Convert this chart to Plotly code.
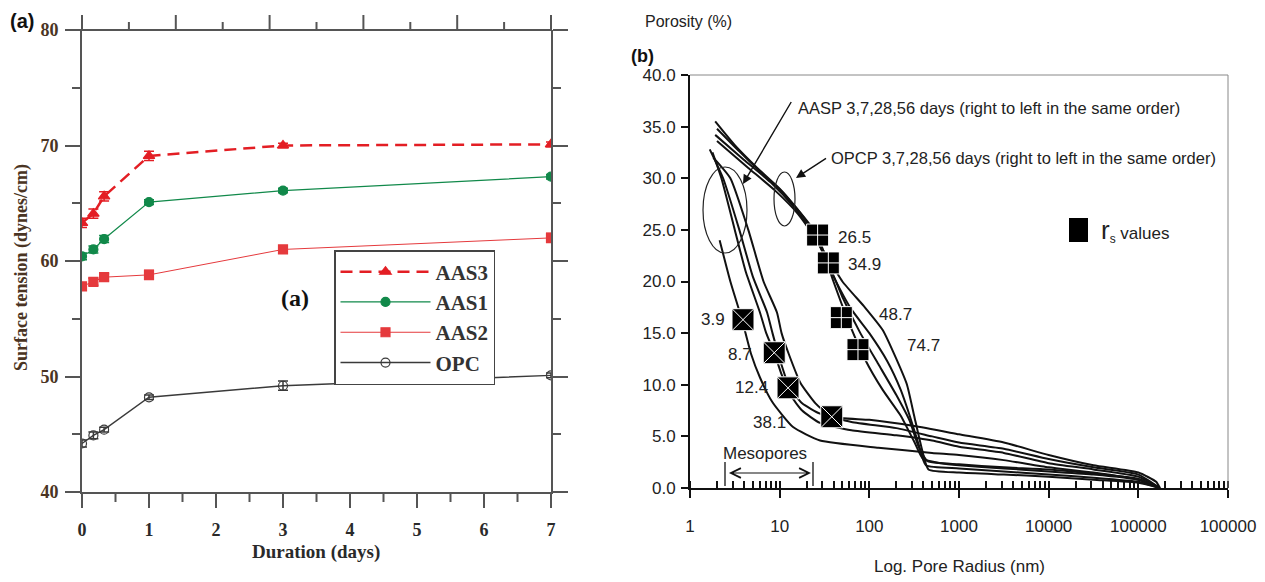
import math
import plotly.graph_objects as go

W, H = 1265, 582

# ---------------- Panel (a): surface tension ----------------
duration_days = [0, 0.17, 0.33, 1, 3, 7]
aas3 = [63.3, 64.1, 65.6, 69.1, 70.0, 70.1]
aas1 = [60.4, 61.0, 61.9, 65.1, 66.1, 67.3]
aas2 = [57.8, 58.2, 58.6, 58.8, 61.0, 62.0]
opc = [44.2, 44.9, 45.4, 48.2, 49.2, 50.1]
aas3_err = [0.4, 0.4, 0.4, 0.4, 0.2, 0.2]
aas1_err = [0.3, 0.3, 0.3, 0.2, 0.2, 0.2]
aas2_err = [0.3, 0.3, 0.3, 0.4, 0.3, 0.4]
opc_err = [0.3, 0.3, 0.2, 0.2, 0.4, 0.2]
a_xrange = [0, 7]
a_minor_xticks = [0.5, 1.5, 2.5, 3.5, 4.5, 5.5, 6.5]

# ---------------- Panel (b): pore size distribution ----------------
# AASP curves (pore radius nm, porosity %)
aasp56_r = [2.14, 2.82, 3.8, 4.79, 6.03, 8.32, 14.1, 28.2, 126, 501, 1000, 3160, 10000, 31600, 100000, 174000]
aasp56_p = [24.0, 20.0, 16.3, 13.0, 10.7, 8.3, 5.9, 4.6, 3.9, 3.4, 3.2, 2.7, 2.0, 1.5, 0.8, 0.0]
aasp28_r = [1.78, 2.24, 3.16, 4.17, 6.03, 7.08, 8.7, 10.5, 13.2, 17.8, 28.2, 63.1, 200, 501, 1000, 3160, 10000, 31600, 100000, 174000]
aasp28_p = [32.5, 30.0, 25.0, 21.0, 17.0, 15.0, 13.1, 11.0, 9.0, 7.5, 6.3, 5.6, 5.1, 4.6, 4.0, 3.4, 2.4, 1.8, 1.1, 0.0]
aasp7_r = [1.66, 2.34, 3.55, 5.01, 7.24, 8.32, 10.0, 12.9, 17.8, 28.2, 63.1, 200, 501, 1000, 3160, 10000, 31600, 100000, 174000]
aasp7_p = [32.8, 30.0, 25.0, 20.5, 17.0, 15.0, 12.5, 9.7, 8.2, 7.2, 6.4, 5.8, 5.0, 4.4, 3.8, 2.8, 2.0, 1.3, 0.0]
aasp3_r = [1.82, 2.82, 4.47, 6.61, 9.33, 10.5, 12.6, 17.0, 25.1, 38.1, 100, 316, 1000, 3160, 10000, 31600, 100000, 158000, 174000]
aasp3_p = [32.0, 30.0, 25.0, 20.0, 17.0, 15.0, 13.0, 10.2, 8.2, 6.9, 6.6, 6.0, 5.2, 4.4, 3.2, 2.2, 1.5, 0.6, 0.0]
# OPCP curves
opcp56_r = [1.91, 3.16, 5.62, 10.0, 15.8, 26.3, 39.8, 56.2, 89.1, 141, 224, 316, 398, 631, 1000, 3160, 10000, 31600, 100000, 174000]
opcp56_p = [35.5, 33.2, 31.0, 29.0, 27.0, 24.5, 20.0, 16.5, 12.5, 9.5, 7.0, 4.5, 2.8, 2.4, 2.2, 1.9, 1.6, 1.3, 0.8, 0.0]
opcp28_r = [2.0, 3.55, 6.31, 11.2, 20.0, 34.7, 50.1, 79.4, 126, 200, 282, 355, 447, 1000, 3160, 10000, 31600, 100000, 174000]
opcp28_p = [34.8, 32.6, 30.5, 28.5, 25.8, 21.8, 18.5, 15.0, 12.0, 9.0, 6.5, 4.0, 2.6, 2.3, 2.0, 1.8, 1.4, 0.9, 0.0]
opcp7_r = [1.91, 3.98, 7.94, 14.1, 25.1, 39.8, 63.1, 100, 158, 224, 282, 355, 427, 1000, 3160, 10000, 31600, 100000, 174000]
opcp7_p = [34.2, 31.8, 29.6, 27.3, 24.3, 20.5, 17.3, 15.0, 12.3, 9.5, 7.0, 4.2, 2.2, 1.9, 1.6, 1.3, 1.0, 0.6, 0.0]
opcp3_r = [2.0, 4.47, 8.91, 15.8, 28.2, 50.1, 89.1, 141, 200, 263, 316, 380, 457, 1000, 3160, 10000, 31600, 100000, 174000]
opcp3_p = [33.6, 31.0, 28.8, 26.6, 23.5, 20.0, 17.5, 15.3, 12.5, 10.0, 7.0, 4.0, 1.8, 1.5, 1.3, 1.1, 0.8, 0.5, 0.0]
# rs markers
rs_aasp = [3.9, 8.7, 12.4, 38.1]
rs_aasp_por = [16.3, 13.1, 9.7, 6.9]
rs_opcp = [26.5, 34.9, 48.7, 74.7]
rs_opcp_por = [24.5, 21.8, 16.5, 13.4]
b_xtickvals = [1, 10, 100, 1000, 10000, 100000, 1000000]
b_xticktext = ["1", "10", "100", "1000", "10000", "100000", "100000"]

# label offsets (style)
aasp_lbl_dx = [-16, -20, -18, -44]
aasp_lbl_dy = [0, -2, 0, -6]
opcp_lbl_dx = [18, 18, 36, 47]
opcp_lbl_dy = [-2, -2, 3, 4]


def PX(x):
    return x / W


def PY(y):
    return 1 - y / H


SERIF = "Liberation Serif"
SANS = "Liberation Sans"
BROWN = "#4a3423"
AX = "#555555"

a_dom_x = [PX(82), PX(551)]
a_dom_y = [PY(492), PY(30)]
b_dom_x = [PX(690), PX(1228)]
b_dom_y = [PY(488), PY(75)]

fig = go.Figure()

series = [
    ("AAS3", aas3, aas3_err, "#e31e24", "12px,7px", 2.5, "triangle-up", 10),
    ("AAS1", aas1, aas1_err, "#11894a", "solid", 1.2, "circle", 9),
    ("AAS2", aas2, aas2_err, "#e53a3d", "solid", 1.0, "square", 9),
    ("OPC", opc, opc_err, "#3a3a3a", "solid", 1.4, "circle-open", 9),
]
for name, ys, err, col, dash, lw, sym, ms in series:
    fig.add_trace(go.Scatter(
        x=duration_days, y=ys, name=name, mode="lines+markers",
        line=dict(color=col, width=lw, dash=dash),
        marker=dict(symbol=sym, size=ms, color=col, line=dict(color=col, width=1.2)),
        error_y=dict(type="data", array=err, color=col, thickness=1.5, width=5),
        xaxis="x", yaxis="y",
    ))

curves = [
    (aasp56_r, aasp56_p), (aasp28_r, aasp28_p), (aasp7_r, aasp7_p), (aasp3_r, aasp3_p),
    (opcp56_r, opcp56_p), (opcp28_r, opcp28_p), (opcp7_r, opcp7_p), (opcp3_r, opcp3_p),
]
for r, p in curves:
    fig.add_trace(go.Scatter(
        x=r, y=p, mode="lines", line=dict(color="#111111", width=2.0, shape="spline", smoothing=0.5),
        showlegend=False, xaxis="x3", yaxis="y3", hoverinfo="skip",
    ))

fig.add_trace(go.Scatter(
    x=rs_aasp, y=rs_aasp_por, mode="markers", showlegend=False, xaxis="x3", yaxis="y3",
    marker=dict(symbol="square-x", size=22, color="#000000", line=dict(color="#ffffff", width=1.0)),
))
fig.add_trace(go.Scatter(
    x=rs_opcp, y=rs_opcp_por, mode="markers", showlegend=False, xaxis="x3", yaxis="y3",
    marker=dict(symbol="square-cross", size=22, color="#000000", line=dict(color="#ffffff", width=1.0)),
))

annotations = []
for r, p, dx, dy in zip(rs_aasp, rs_aasp_por, aasp_lbl_dx, aasp_lbl_dy):
    annotations.append(dict(x=math.log10(r), y=p, xref="x3", yref="y3", text=f"{r}", showarrow=False,
                            xanchor="right", xshift=dx, yshift=dy, font=dict(family=SANS, size=17, color="#222")))
for r, p, dx, dy in zip(rs_opcp, rs_opcp_por, opcp_lbl_dx, opcp_lbl_dy):
    annotations.append(dict(x=math.log10(r), y=p, xref="x3", yref="y3", text=f"{r}", showarrow=False,
                            xanchor="left", xshift=dx, yshift=dy, font=dict(family=SANS, size=17, color="#222")))


def txt(x, y, s, size, family=SANS, color="#222", bold=False, xanchor="center", angle=0):
    annotations.append(dict(x=PX(x), y=PY(y), xref="paper", yref="paper", text=s, showarrow=False,
                            xanchor=xanchor, yanchor="middle", textangle=angle,
                            font=dict(family=family, size=size, color=color, weight="bold" if bold else "normal")))


# panel (a) texts
txt(22, 21, "(a)", 20, family=SANS, color="#111", bold=True)
txt(22, 268, "Surface tension (dynes/cm)", 18, family=SERIF, color=BROWN, bold=True, angle=-90)
txt(316, 552, "Duration (days)", 19, family=SERIF, color="#2a2a2a", bold=True)
txt(295, 298, "(a)", 24, family=SERIF, color="#111", bold=True)

# panel (b) texts
txt(643, 22, "Porosity (%)", 16, xanchor="left")
txt(643, 56, "(b)", 18, family=SANS, color="#111", bold=True)
txt(960, 566, "Log. Pore Radius (nm)", 17)
txt(796, 108, "AASP 3,7,28,56 days (right to left in the same order)", 16.5, xanchor="left")
txt(829, 158, "OPCP 3,7,28,56 days (right to left in the same order)", 16.5, xanchor="left")
txt(1099, 231, "<span style='font-size:26px'>r</span><sub>s</sub> values", 17, xanchor="left")
txt(765, 453, "Mesopores", 17)


def arrow(tx, ty, hx, hy, head=2, size=1.3, width=1.4, side="end"):
    annotations.append(dict(x=PX(hx), y=PY(hy), xref="paper", yref="paper", ax=tx - hx, ay=ty - hy,
                            axref="pixel", ayref="pixel", text=" ", showarrow=True, arrowhead=head,
                            startarrowhead=head, arrowside=side, arrowsize=size, arrowwidth=width,
                            arrowcolor="#111", font=dict(size=2)))


arrow(793, 99, 743, 184)
arrow(828, 157, 796, 178)
arrow(727, 473, 811, 473, head=5, size=1.6, width=1.2, side="end+start")

shapes = [
    # panel (b) frame (top/right)
    dict(type="line", xref="paper", yref="paper", x0=PX(690), y0=PY(75), x1=PX(1228), y1=PY(75),
         line=dict(color="#888", width=1)),
    dict(type="line", xref="paper", yref="paper", x0=PX(1228), y0=PY(75), x1=PX(1228), y1=PY(488),
         line=dict(color="#888", width=1)),
    # ellipses
    dict(type="circle", xref="paper", yref="paper", x0=PX(703), y0=PY(167), x1=PX(747), y1=PY(253),
         line=dict(color="#222", width=1.2)),
    dict(type="circle", xref="paper", yref="paper", x0=PX(774), y0=PY(172), x1=PX(795), y1=PY(226),
         line=dict(color="#222", width=1.2)),
    # mesopores bars
    dict(type="line", xref="paper", yref="paper", x0=PX(725), y0=PY(462), x1=PX(725), y1=PY(486),
         line=dict(color="#111", width=1.3)),
    dict(type="line", xref="paper", yref="paper", x0=PX(813), y0=PY(462), x1=PX(813), y1=PY(486),
         line=dict(color="#111", width=1.3)),
    # r_s legend block
    dict(type="rect", xref="paper", yref="paper", x0=PX(1069), y0=PY(218), x1=PX(1088), y1=PY(242),
         fillcolor="#000", line=dict(width=0)),
    # panel (a) top frame line
    dict(type="line", xref="paper", yref="paper", x0=PX(66), y0=PY(30), x1=PX(552), y1=PY(30),
         line=dict(color=AX, width=2)),
]
# bottom half-day minor ticks of panel (a)
span = a_xrange[1] - a_xrange[0]
for xv in a_minor_xticks:
    f = a_dom_x[0] + (xv - a_xrange[0]) / span * (a_dom_x[1] - a_dom_x[0])
    shapes.append(dict(type="line", xref="paper", yref="paper", x0=f, x1=f, y0=PY(493), y1=PY(502),
                       layer="above", line=dict(color=AX, width=2)))
# top frame ticks of panel (a) (ten divisions, every second one long)
for k in range(11):
    shapes.append(dict(type="line", xref="x domain", yref="paper", x0=k / 10, x1=k / 10, y0=PY(30),
                       y1=PY(15 if k % 2 == 0 else 22), line=dict(color=AX, width=2)))

fig.update_layout(
    width=W, height=H, margin=dict(l=0, r=0, t=0, b=0, autoexpand=False),
    paper_bgcolor="white", plot_bgcolor="white",
    showlegend=True,
    legend=dict(x=PX(334), y=PY(250), xanchor="left", yanchor="top", bgcolor="white",
                bordercolor="#444", borderwidth=1.5, itemwidth=90,
                font=dict(family=SERIF, size=21, color="#333", weight="bold"), tracegroupgap=0),
    xaxis=dict(domain=a_dom_x, anchor="y", type="linear", range=a_xrange, tickmode="linear", tick0=0, dtick=1,
               ticks="outside", ticklen=14,
               tickwidth=2, tickcolor=AX, showline=True, linewidth=2, linecolor=AX, showgrid=False, zeroline=False,
               tickfont=dict(family=SERIF, size=18, color="#2a2a2a", weight="bold"), ticklabelstandoff=6),
    yaxis=dict(domain=a_dom_y, anchor="x", type="linear", range=[40, 80], tickmode="linear", tick0=40, dtick=10,
               ticks="outside", ticklen=15,
               tickwidth=2, tickcolor=AX, showline=True, linewidth=2, linecolor=AX, mirror="ticks",
               showgrid=False, zeroline=False,
               minor=dict(tickmode="linear", dtick=5, tick0=40, ticks="outside", ticklen=8, tickwidth=2,
                          tickcolor=AX, showgrid=False),
               tickfont=dict(family=SERIF, size=18, color=BROWN, weight="bold"), ticklabelstandoff=3),
    xaxis3=dict(domain=b_dom_x, anchor="y3", type="log", range=[0, 6], tickmode="array", tickvals=b_xtickvals,
                ticktext=b_xticktext, ticks="outside", ticklen=8, tickwidth=2, tickcolor="#111",
                showline=True, linewidth=2, linecolor="#111", showgrid=False, zeroline=False,
                minor=dict(dtick="D1", ticks="inside", ticklen=7, tickwidth=1.5, tickcolor="#111", showgrid=False),
                tickfont=dict(family=SANS, size=17, color="#222"), ticklabelstandoff=14),
    yaxis3=dict(domain=b_dom_y, anchor="x3", range=[0, 40], tickmode="linear", dtick=5, tick0=0, tickformat=".1f",
                ticks="outside", ticklen=7, tickwidth=1.5, tickcolor="#111", showline=True, linewidth=2,
                linecolor="#111", showgrid=False, zeroline=False,
                tickfont=dict(family=SANS, size=17, color="#222"), ticklabelstandoff=2),
    annotations=annotations,
    shapes=shapes,
)

fig.write_html("out.html")
